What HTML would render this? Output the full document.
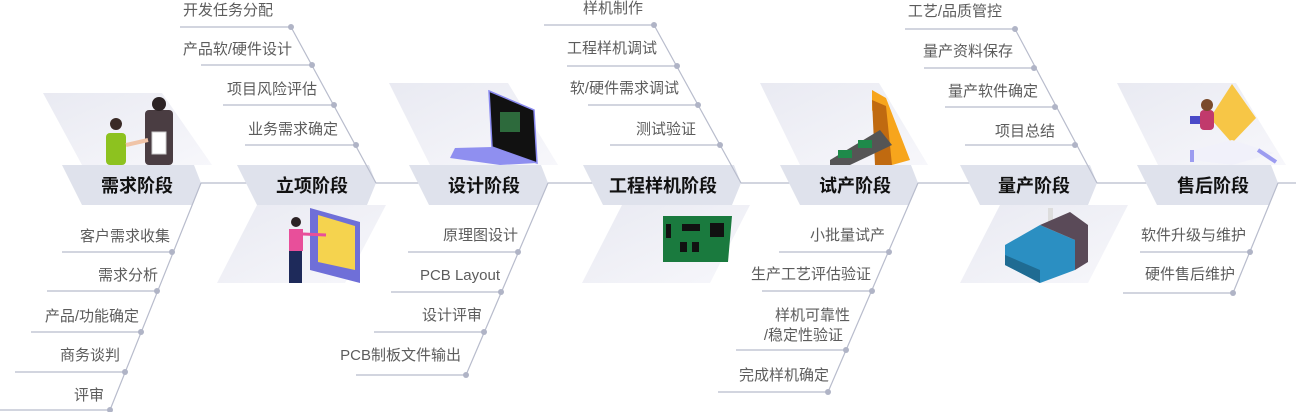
<!DOCTYPE html>
<html><head><meta charset="utf-8"><style>
html,body{margin:0;padding:0;background:#fff;width:1296px;height:412px;overflow:hidden}
text{font-family:"Liberation Sans","Noto Sans CJK SC",sans-serif}
.t{font-size:15px;fill:#5c5c5c;text-anchor:end}
.h{font-size:18px;font-weight:bold;fill:#111;text-anchor:middle}
</style></head><body>
<svg width="1296" height="412" viewBox="0 0 1296 412" xmlns="http://www.w3.org/2000/svg">
<defs>
<linearGradient id="pg" x1="0" y1="0" x2="1" y2="1"><stop offset="0" stop-color="#e9eaf2"/><stop offset="1" stop-color="#f7f7fb"/></linearGradient>
</defs>
<g stroke="#b8bccc" stroke-width="1.2" fill="none">
<line x1="200" y1="183" x2="1296" y2="183"/>
</g>
<g fill="url(#pg)">
<polygon points="43,93 162,93 212,165 82,165"/>
<polygon points="389,83 508,83 558,165 430,165"/>
<polygon points="760,83 879,83 928,165 800,165"/>
<polygon points="1117,83 1236,83 1286,165 1158,165"/>
<polygon points="257,205 386,205 345,283 217,283"/>
<polygon points="622,205 750,205 710,283 582,283"/>
<polygon points="1000,205 1128,205 1088,283 960,283"/>
</g>
<g fill="#dfe2ec">
<polygon points="62,165 194,165 201,183 192,205 82,205"/>
<polygon points="237,165 369,165 376,183 367,205 257,205"/>
<polygon points="409,165 541,165 548,183 539,205 429,205"/>
<polygon points="583,165 734,165 741,183 732,205 603,205"/>
<polygon points="780,165 911,165 918,183 909,205 800,205"/>
<polygon points="960,165 1090,165 1097,183 1088,205 980,205"/>
<polygon points="1137,165 1271,165 1278,183 1269,205 1157,205"/>
</g>
<text class="h" x="137" y="192">需求阶段</text>
<text class="h" x="312" y="192">立项阶段</text>
<text class="h" x="484" y="192">设计阶段</text>
<text class="h" x="663" y="192">工程样机阶段</text>
<text class="h" x="855" y="192">试产阶段</text>
<text class="h" x="1034" y="192">量产阶段</text>
<text class="h" x="1213" y="192">售后阶段</text>

<g stroke="#b8bccc" stroke-width="1.2" fill="none">
<line x1="201" y1="183" x2="110" y2="410"/>
<line x1="62" y1="252" x2="172" y2="252"/><line x1="47" y1="291" x2="157" y2="291"/><line x1="31" y1="332" x2="141" y2="332"/><line x1="15" y1="372" x2="125" y2="372"/><line x1="0" y1="410" x2="110" y2="410"/>
<line x1="376" y1="183" x2="291" y2="27"/>
<line x1="180" y1="27" x2="291" y2="27"/><line x1="201" y1="65" x2="312" y2="65"/><line x1="223" y1="105" x2="334" y2="105"/><line x1="245" y1="145" x2="356" y2="145"/>
<line x1="548" y1="183" x2="466" y2="375"/>
<line x1="408" y1="252" x2="518" y2="252"/><line x1="391" y1="292" x2="501" y2="292"/><line x1="374" y1="332" x2="484" y2="332"/><line x1="356" y1="375" x2="466" y2="375"/>
<line x1="741" y1="183" x2="654" y2="25"/>
<line x1="544" y1="25" x2="654" y2="25"/><line x1="567" y1="66" x2="677" y2="66"/><line x1="588" y1="105" x2="698" y2="105"/><line x1="610" y1="145" x2="720" y2="145"/>
<line x1="918" y1="183" x2="828" y2="392"/>
<line x1="779" y1="252" x2="889" y2="252"/><line x1="762" y1="291" x2="872" y2="291"/><line x1="736" y1="350" x2="846" y2="350"/><line x1="718" y1="392" x2="828" y2="392"/>
<line x1="1097" y1="183" x2="1015" y2="29"/>
<line x1="905" y1="29" x2="1015" y2="29"/><line x1="924" y1="68" x2="1034" y2="68"/><line x1="945" y1="107" x2="1055" y2="107"/><line x1="965" y1="145" x2="1075" y2="145"/>
<line x1="1278" y1="183" x2="1233" y2="293"/>
<line x1="1140" y1="252" x2="1250" y2="252"/><line x1="1123" y1="293" x2="1233" y2="293"/>
</g>
<g fill="#b0b4c6">
<circle cx="172" cy="252" r="3"/><circle cx="157" cy="291" r="3"/><circle cx="141" cy="332" r="3"/><circle cx="125" cy="372" r="3"/><circle cx="110" cy="410" r="3"/>
<circle cx="291" cy="27" r="3"/><circle cx="312" cy="65" r="3"/><circle cx="334" cy="105" r="3"/><circle cx="356" cy="145" r="3"/>
<circle cx="518" cy="252" r="3"/><circle cx="501" cy="292" r="3"/><circle cx="484" cy="332" r="3"/><circle cx="466" cy="375" r="3"/>
<circle cx="654" cy="25" r="3"/><circle cx="677" cy="66" r="3"/><circle cx="698" cy="105" r="3"/><circle cx="720" cy="145" r="3"/>
<circle cx="889" cy="252" r="3"/><circle cx="872" cy="291" r="3"/><circle cx="846" cy="350" r="3"/><circle cx="828" cy="392" r="3"/>
<circle cx="1015" cy="29" r="3"/><circle cx="1034" cy="68" r="3"/><circle cx="1055" cy="107" r="3"/><circle cx="1075" cy="145" r="3"/>
<circle cx="1250" cy="252" r="3"/><circle cx="1233" cy="293" r="3"/>
</g>
<text class="t" x="170" y="241">客户需求收集</text>
<text class="t" x="158" y="280">需求分析</text>
<text class="t" x="139" y="321">产品/功能确定</text>
<text class="t" x="120" y="360">商务谈判</text>
<text class="t" x="104" y="400">评审</text>

<text class="t" x="273" y="15">开发任务分配</text>
<text class="t" x="292" y="54">产品软/硬件设计</text>
<text class="t" x="317" y="94">项目风险评估</text>
<text class="t" x="338" y="134">业务需求确定</text>

<text class="t" x="518" y="240">原理图设计</text>
<text class="t" x="500" y="280">PCB Layout</text>
<text class="t" x="482" y="320">设计评审</text>
<text class="t" x="461" y="360">PCB制板文件输出</text>

<text class="t" x="643" y="13">样机制作</text>
<text class="t" x="657" y="53">工程样机调试</text>
<text class="t" x="679" y="93">软/硬件需求调试</text>
<text class="t" x="696" y="134">测试验证</text>

<text class="t" x="885" y="240">小批量试产</text>
<text class="t" x="871" y="279">生产工艺评估验证</text>
<text class="t" x="850" y="320">样机可靠性</text>
<text class="t" x="843" y="340">/稳定性验证</text>
<text class="t" x="829" y="380">完成样机确定</text>

<text class="t" x="1002" y="16">工艺/品质管控</text>
<text class="t" x="1013" y="56">量产资料保存</text>
<text class="t" x="1038" y="96">量产软件确定</text>
<text class="t" x="1055" y="136">项目总结</text>

<text class="t" x="1246" y="240">软件升级与维护</text>
<text class="t" x="1235" y="279">硬件售后维护</text>

<g>
<rect x="106" y="133" width="20" height="32" rx="4" fill="#8dc21f"/>
<circle cx="116" cy="124" r="6" fill="#3a2a26"/>
<rect x="145" y="110" width="28" height="55" rx="4" fill="#4a3d42"/>
<circle cx="159" cy="104" r="7" fill="#2b2224"/>
<rect x="152" y="132" width="14" height="22" fill="#fff" stroke="#ccc"/>
<line x1="126" y1="145" x2="148" y2="140" stroke="#f0c4a8" stroke-width="4"/>
</g>
<g>
<polygon points="310,208 360,222 360,283 310,270" fill="#6f6fd8"/>
<polygon points="318,215 355,226 355,270 318,262" fill="#f5d34e"/>
<rect x="289" y="229" width="14" height="22" fill="#e84f9a"/>
<circle cx="296" cy="222" r="5" fill="#2b2224"/>
<rect x="289" y="251" width="13" height="32" fill="#1e2a5a"/>
<line x1="303" y1="234" x2="326" y2="235" stroke="#e84f9a" stroke-width="3"/>
</g>
<g>
<polygon points="489,91 534,110 537,163 492,147" fill="#111" stroke="#8a8af0" stroke-width="1.5"/>
<rect x="500" y="112" width="20" height="20" fill="#2d6a3c"/>
<polygon points="455,148 492,147 537,163 500,165 450,158" fill="#8f8ff0"/>
</g>
<g>
<polygon points="663,216 732,216 728,262 663,262" fill="#1a7a3e"/>
<rect x="682" y="224" width="18" height="7" fill="#111"/>
<rect x="710" y="223" width="14" height="14" fill="#111"/>
<rect x="680" y="242" width="7" height="10" fill="#111"/><rect x="692" y="242" width="7" height="10" fill="#111"/>
<rect x="666" y="224" width="5" height="14" fill="#111"/>
</g>
<g>
<polygon points="872,90 886,98 910,160 892,165 872,110" fill="#f7a51c"/>
<polygon points="872,100 886,106 892,165 875,165" fill="#c06a10"/>
<polygon points="830,160 880,130 892,145 850,165 830,165" fill="#555"/>
<rect x="838" y="150" width="14" height="8" fill="#1e8a4a"/><rect x="858" y="140" width="14" height="8" fill="#1e8a4a"/>
</g>
<g>
<rect x="1048" y="208" width="5" height="18" fill="#ddd"/>
<polygon points="1005,245 1040,225 1075,240 1075,270 1040,283 1005,265" fill="#2b8fc2"/>
<polygon points="1040,225 1070,212 1088,225 1088,262 1075,270 1075,240" fill="#5a4a58"/>
<polygon points="1005,265 1040,283 1040,270 1005,255" fill="#1f6b92"/>
</g>
<g>
<polygon points="1232,84 1256,118 1232,143 1210,118" fill="#f7c646"/>
<polygon points="1192,150 1232,140 1274,153 1232,165 1192,160" fill="#f1f1fa"/>
<line x1="1192" y1="150" x2="1192" y2="162" stroke="#9c9cf0" stroke-width="4"/>
<line x1="1258" y1="150" x2="1276" y2="162" stroke="#9c9cf0" stroke-width="4"/>
<rect x="1200" y="110" width="14" height="20" rx="4" fill="#c13a6c"/>
<circle cx="1207" cy="105" r="6" fill="#7a4a2a"/>
<rect x="1190" y="116" width="10" height="8" fill="#4a4ac8"/>
</g>
</svg>
</body></html>
